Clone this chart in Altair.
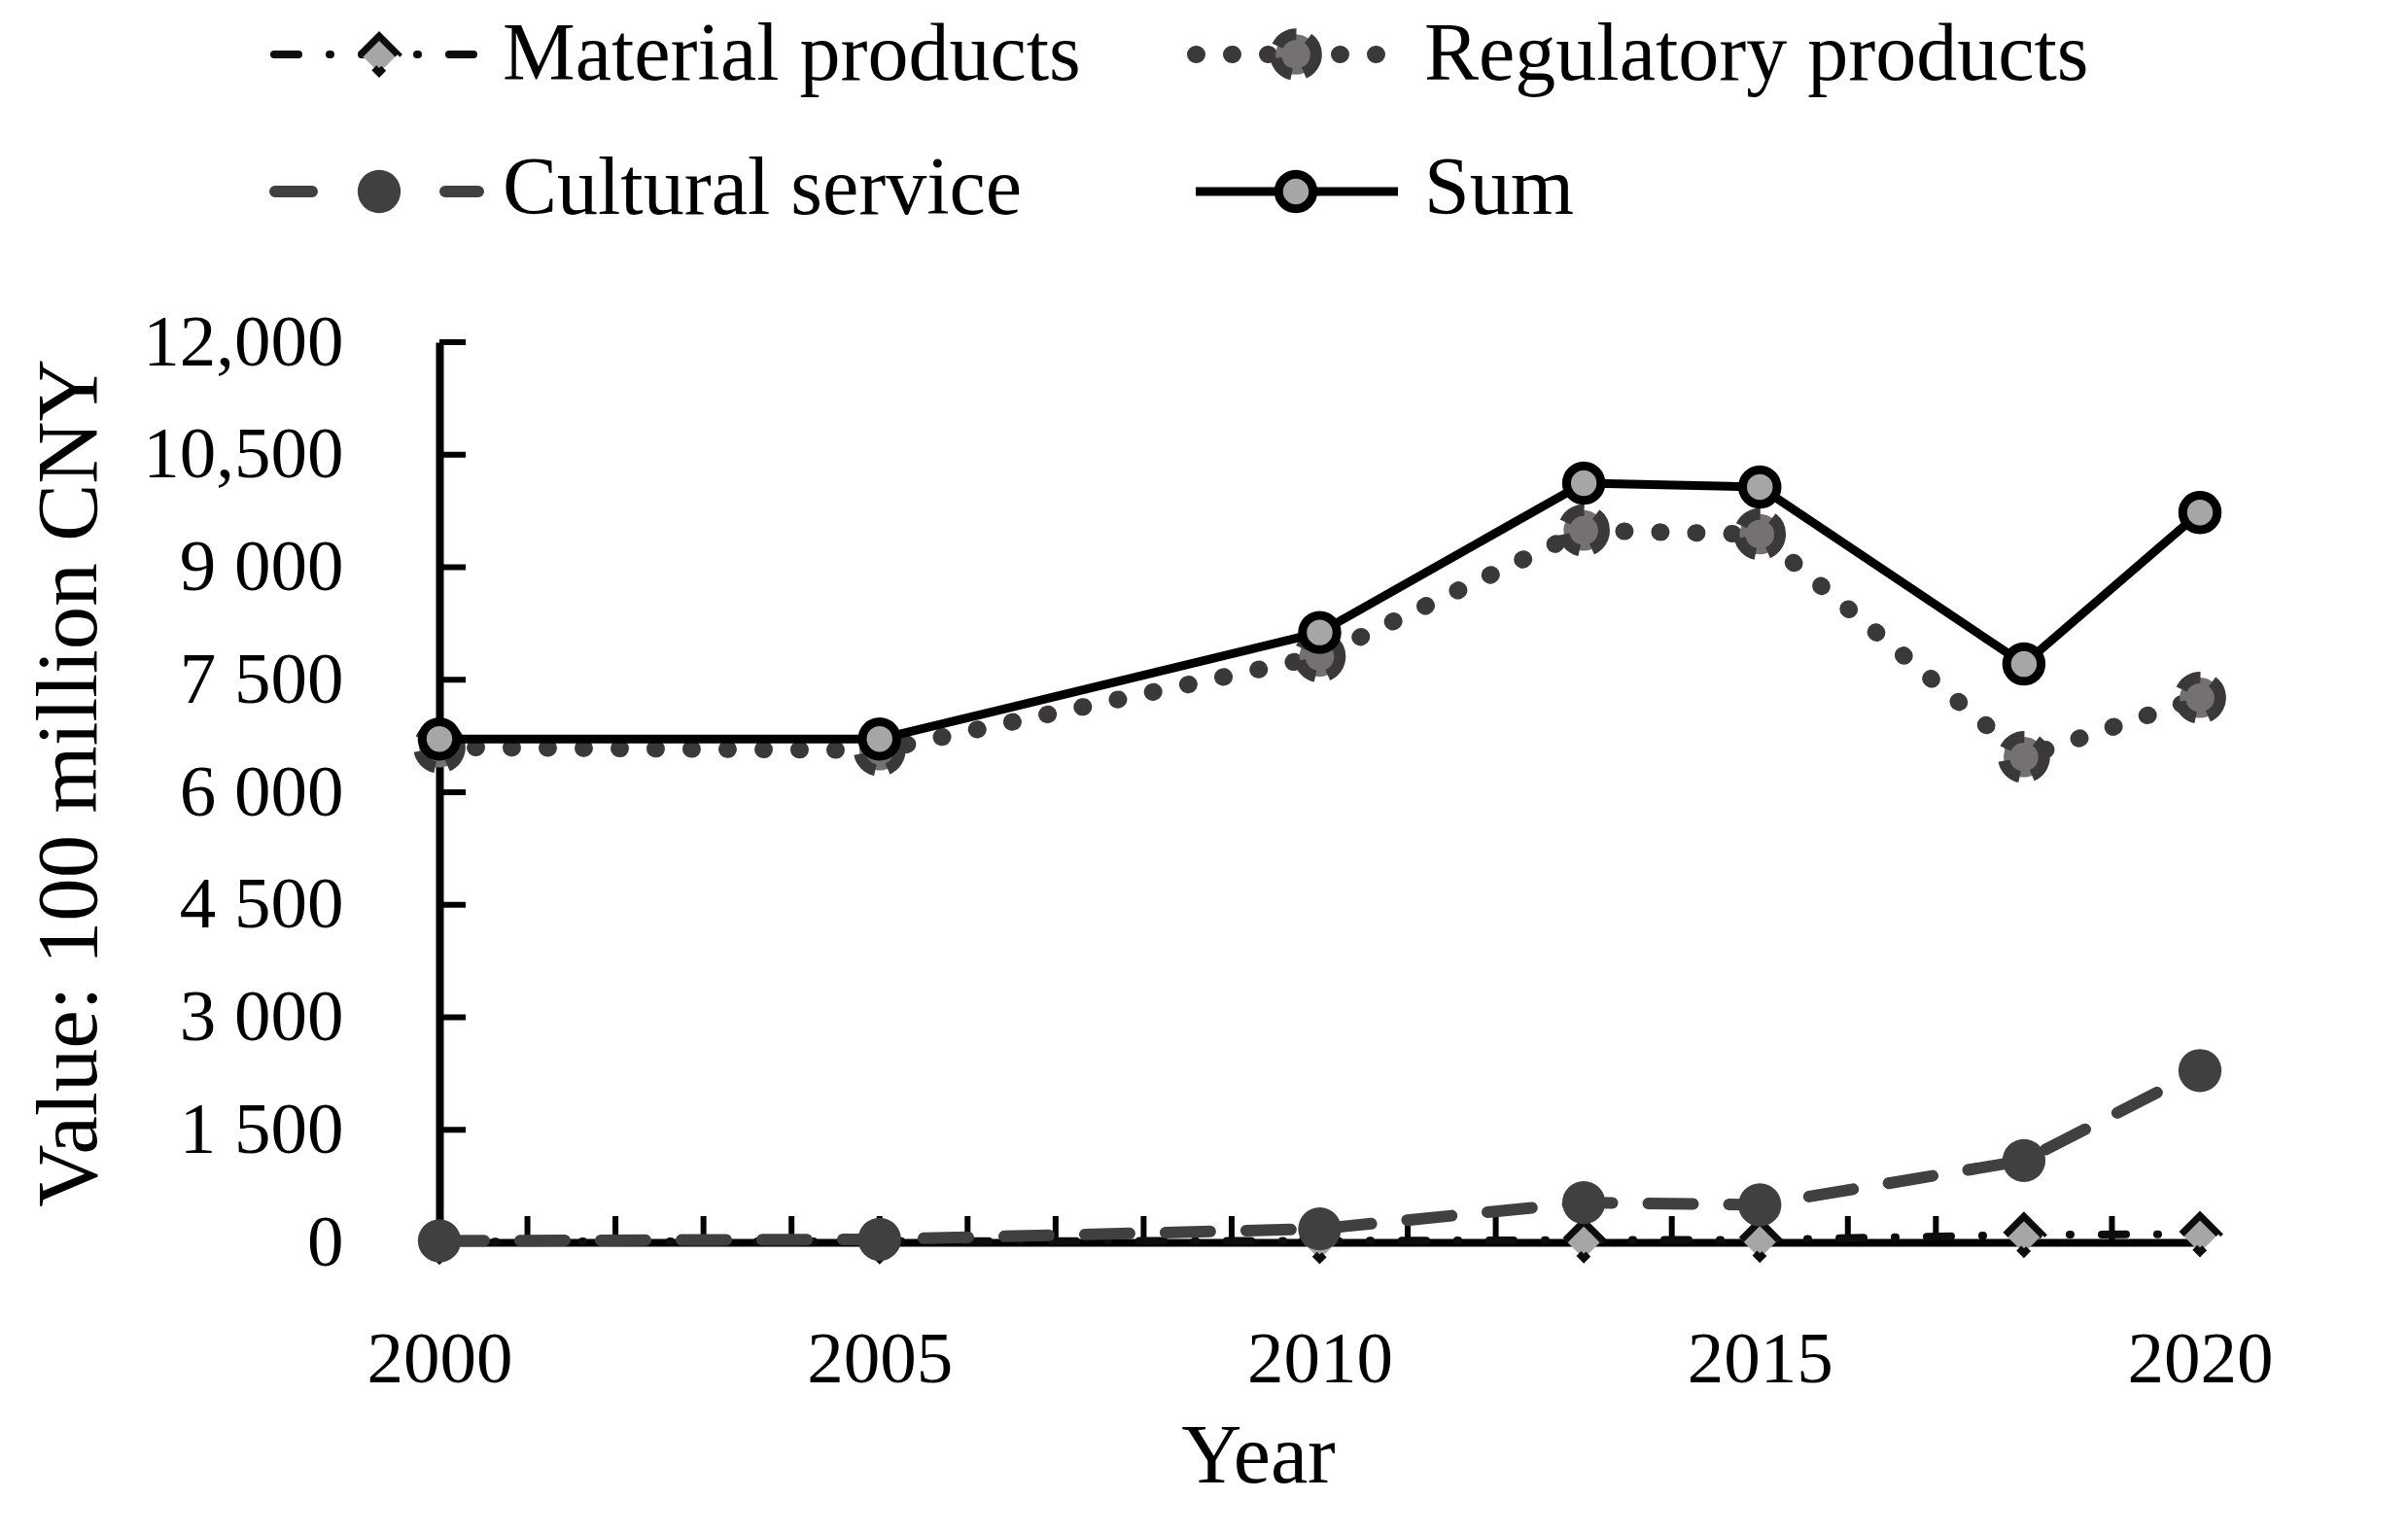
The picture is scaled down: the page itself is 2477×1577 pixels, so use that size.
import altair as alt
import pandas as pd

# ---- data ----
years = [2000, 2005, 2010, 2013, 2015, 2018, 2020]
material = [10, 15, 20, 30, 35, 100, 110]
regulatory = [6600, 6560, 7810, 9490, 9440, 6470, 7260]
cultural = [20, 40, 180, 530, 500, 1090, 2290]
total = [6710, 6710, 8130, 10120, 10070, 7710, 9730]
series_names = ["Material products", "Regulatory products", "Cultural service", "Sum"]

x_label_years = [2000, 2005, 2010, 2015, 2020]
x_tick_years = list(range(2000, 2021))
y_tick_values = [0, 1500, 3000, 4500, 6000, 7500, 9000, 10500, 12000]

FONT = "Liberation Serif"
W, H = 1811, 926
TICK = 27

df = pd.DataFrame({
    "year": years * 4,
    "value": material + regulatory + cultural + total,
    "series": [n for n in series_names for _ in years],
})

xscale = alt.Scale(domain=[2000, 2020], nice=False, zero=False)
yscale = alt.Scale(domain=[0, 12000], nice=False, zero=True)

x_axis = alt.Axis(
    values=x_label_years, format="d", title="Year", grid=False,
    ticks=False, tickSize=0, domainColor="black", domainWidth=8,
    labelFont=FONT, labelFontSize=75, labelColor="black", labelPadding=84,
    labelFlush=False, labelOverlap=False, labelLimit=0,
    titleFont=FONT, titleFontSize=86, titleFontWeight="normal", titleColor="black",
    titleX=842, titleY=246, titleBaseline="alphabetic", titleAlign="center",
)
y_axis = alt.Axis(
    values=y_tick_values, grid=False,
    labelExpr="datum.value >= 10000 ? format(datum.value, ',') : replace(format(datum.value, ','), ',', ' ')",
    title="Value: 100 million CNY",
    ticks=False, tickSize=0, domainColor="black", domainWidth=8,
    labelFont=FONT, labelFontSize=75, labelColor="black", labelPadding=99,
    labelFlush=False, labelOverlap=False, labelLimit=0,
    titleFont=FONT, titleFontSize=89, titleFontWeight="normal", titleColor="black",
    titleX=-354, titleY=453, titleBaseline="alphabetic", titleAlign="center", titleAngle=270,
    titleLimit=0,
)

X = alt.X("year:Q", scale=xscale, axis=x_axis)
Y = alt.Y("value:Q", scale=yscale, axis=y_axis)

styles = {
    "Material products": (
        dict(color="#0d0d0d", strokeWidth=8, strokeDash=[25, 32, 1, 32], strokeCap="round", strokeJoin="round"),
        dict(shape="diamond", size=1444, filled=True, fill="#a6a6a6", stroke="#0d0d0d",
             strokeWidth=7, strokeDash=[54, 20, 14, 20], opacity=1),
    ),
    "Regulatory products": (
        dict(color="#3a3838", strokeWidth=18, strokeDash=[1, 36], strokeCap="round", strokeJoin="round"),
        dict(shape="circle", size=1735, filled=True, fill="#767171", stroke="#3a3838",
             strokeWidth=12, strokeDash=[24, 13], opacity=1),
    ),
    "Cultural service": (
        dict(color="#404040", strokeWidth=12, strokeDash=[46, 37], strokeCap="round", strokeJoin="round"),
        dict(shape="circle", size=1963, filled=True, fill="#404040", strokeWidth=0, opacity=1),
    ),
    "Sum": (
        dict(color="#000000", strokeWidth=9, strokeJoin="round"),
        dict(shape="circle", size=1257, filled=True, fill="#a6a6a6", stroke="#000000",
             strokeWidth=9, opacity=1),
    ),
}

layers = []

# inward-pointing tick marks
layers.append(
    alt.Chart(pd.DataFrame({"year": x_tick_years})).mark_rule(color="black", strokeWidth=6)
    .encode(x=X, y=alt.value(H), y2=alt.value(H - TICK))
)
layers.append(
    alt.Chart(pd.DataFrame({"value": y_tick_values})).mark_rule(color="black", strokeWidth=6)
    .encode(y=Y, x=alt.value(0), x2=alt.value(TICK))
)

base = alt.Chart(df)
for name in series_names:
    line_kw, pt_kw = styles[name]
    b = base.transform_filter(alt.datum.series == name)
    layers.append(b.mark_line(**line_kw).encode(x=X, y=Y))
    layers.append(b.mark_point(**pt_kw).encode(x=X, y=Y))

# ---- manual legend (two rows, two columns) ----
legend_layout = {
    # name: (line x0, line x1, marker x, text x, line y, text baseline y, dash override)
    "Material products": (-170, 35, -62, 65, -296, -270, None),
    "Regulatory products": (778, 966, 881, 1013, -296, -270, None),
    "Cultural service": (-169, 40, -62, 65, -155, -132, [38, 137]),
    "Sum": (778, 986, 881, 1013, -155, -132, None),
}
for name in series_names:
    x0, x1, xm, xt, yl, yt, dash = legend_layout[name]
    line_kw, pt_kw = styles[name]
    lk = dict(line_kw)
    lk.pop("strokeJoin", None)
    if dash is not None:
        lk["strokeDash"] = dash
    d = alt.Data(values=[{"label": name}])
    layers.append(alt.Chart(d).mark_rule(**lk).encode(x=alt.value(x0), x2=alt.value(x1), y=alt.value(yl)))
    layers.append(alt.Chart(d).mark_point(**pt_kw).encode(x=alt.value(xm), y=alt.value(yl)))
    layers.append(
        alt.Chart(d).mark_text(align="left", baseline="alphabetic", font=FONT, fontSize=84, color="black")
        .encode(x=alt.value(xt), y=alt.value(yt), text="label:N")
    )

chart = alt.layer(*layers).properties(
    width=W, height=H,
    padding={"left": 444, "top": 344, "right": 206, "bottom": 291},
    autosize=alt.AutoSizeParams(type="none"),
    background="white",
).configure_view(stroke=None)

chart.save("out.html", embed_options={"renderer": "svg", "actions": False})
